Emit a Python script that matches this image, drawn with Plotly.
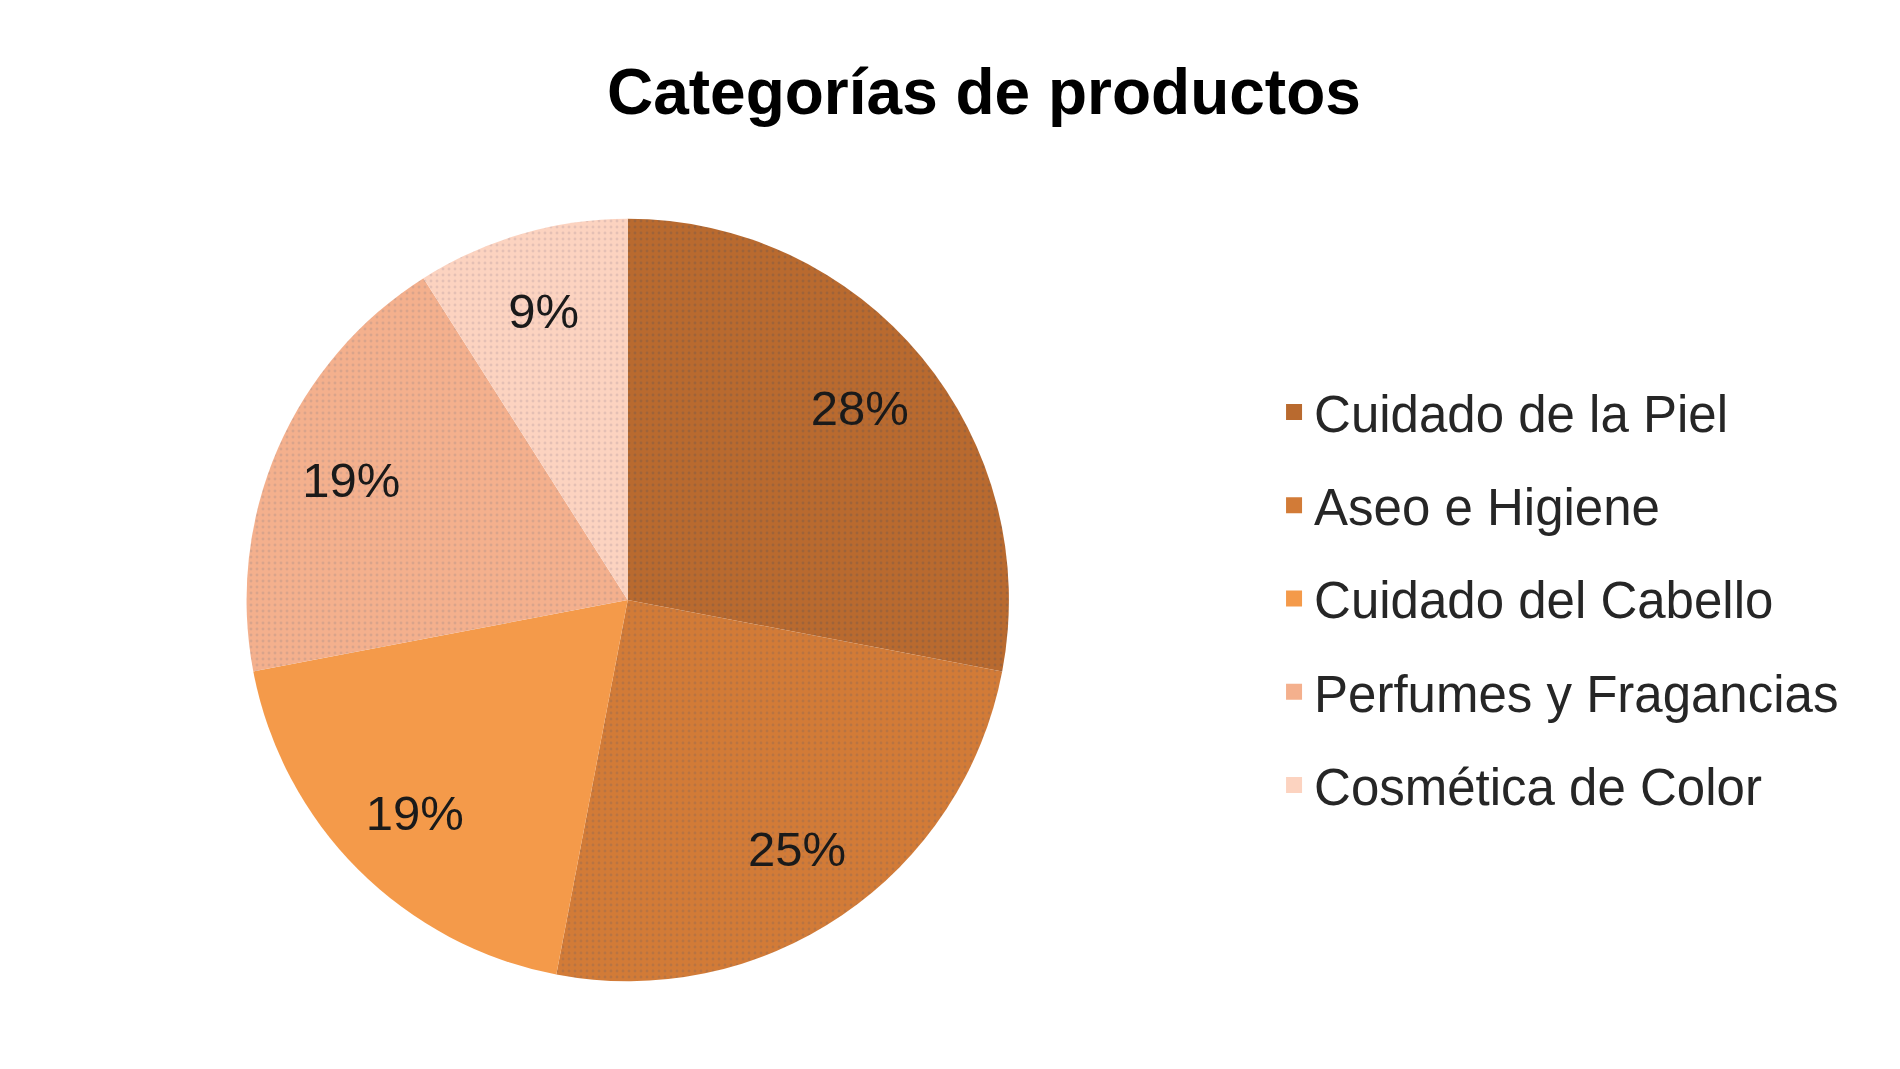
import plotly.graph_objects as go

# data
categories = ['Cuidado de la Piel', 'Aseo e Higiene', 'Cuidado del Cabello',
              'Perfumes y Fragancias', 'Cosmética de Color']
shares = [28, 25, 19, 19, 9]
colors = ['#b96a2f', '#d27b37', '#f49a4a', '#f4b08d', '#fcd3c0']
dot_colors = ['#7d5a48', '#9a6a50', '#f49a4a', '#b8948a', '#c8a8a8']
patterns = ['.', '.', '', '.', '.']

pie_domain = dict(x=[0.1253, 0.5326], y=[0.0758, 0.7998])

fig = go.Figure()

# the slices
fig.add_trace(go.Pie(
    labels=categories,
    values=shares,
    sort=False,
    direction='clockwise',
    rotation=0,
    marker=dict(colors=colors,
                line=dict(width=0),
                pattern=dict(shape=patterns, fgcolor=dot_colors, bgcolor=colors,
                             fgopacity=0.45, size=6, solidity=0.18)),
    textinfo='none',
    showlegend=False,
    domain=pie_domain,
    hoverinfo='label+percent',
))

# percentage labels: same values on a transparent ring so they sit further out
fig.add_trace(go.Pie(
    labels=categories,
    values=shares,
    sort=False,
    direction='clockwise',
    rotation=0,
    hole=0.58,
    marker=dict(colors=['rgba(0,0,0,0)'] * len(shares), line=dict(width=0)),
    texttemplate='%{percent:.0%}',
    textposition='inside',
    insidetextorientation='horizontal',
    textfont=dict(family='Liberation Sans, Arial', size=49, color='#1a1a1a'),
    showlegend=False,
    domain=pie_domain,
    hoverinfo='skip',
))

# legend entries: one dummy trace per category so the entries can be spaced
for name, col in zip(categories, colors):
    fig.add_trace(go.Scatter(
        x=[None], y=[None], mode='markers', name=name,
        legendgroup=name,
        marker=dict(symbol='square', size=22, color=col),
    ))

fig.update_layout(
    title=dict(text='<b>Categorías de productos</b>',
               font=dict(family='Liberation Sans, Arial', size=64, color='#000000'),
               x=0.518, xanchor='center', y=0.921, yanchor='middle'),
    legend=dict(x=0.672, xanchor='left', y=0.439, yanchor='middle',
                font=dict(family='Liberation Sans, Arial', size=51, color='#262626'),
                tracegroupgap=24, itemclick=False),
    xaxis=dict(visible=False),
    yaxis=dict(visible=False),
    margin=dict(l=0, r=0, t=0, b=0),
    paper_bgcolor='white',
    plot_bgcolor='white',
)

fig.write_html("out.html")
